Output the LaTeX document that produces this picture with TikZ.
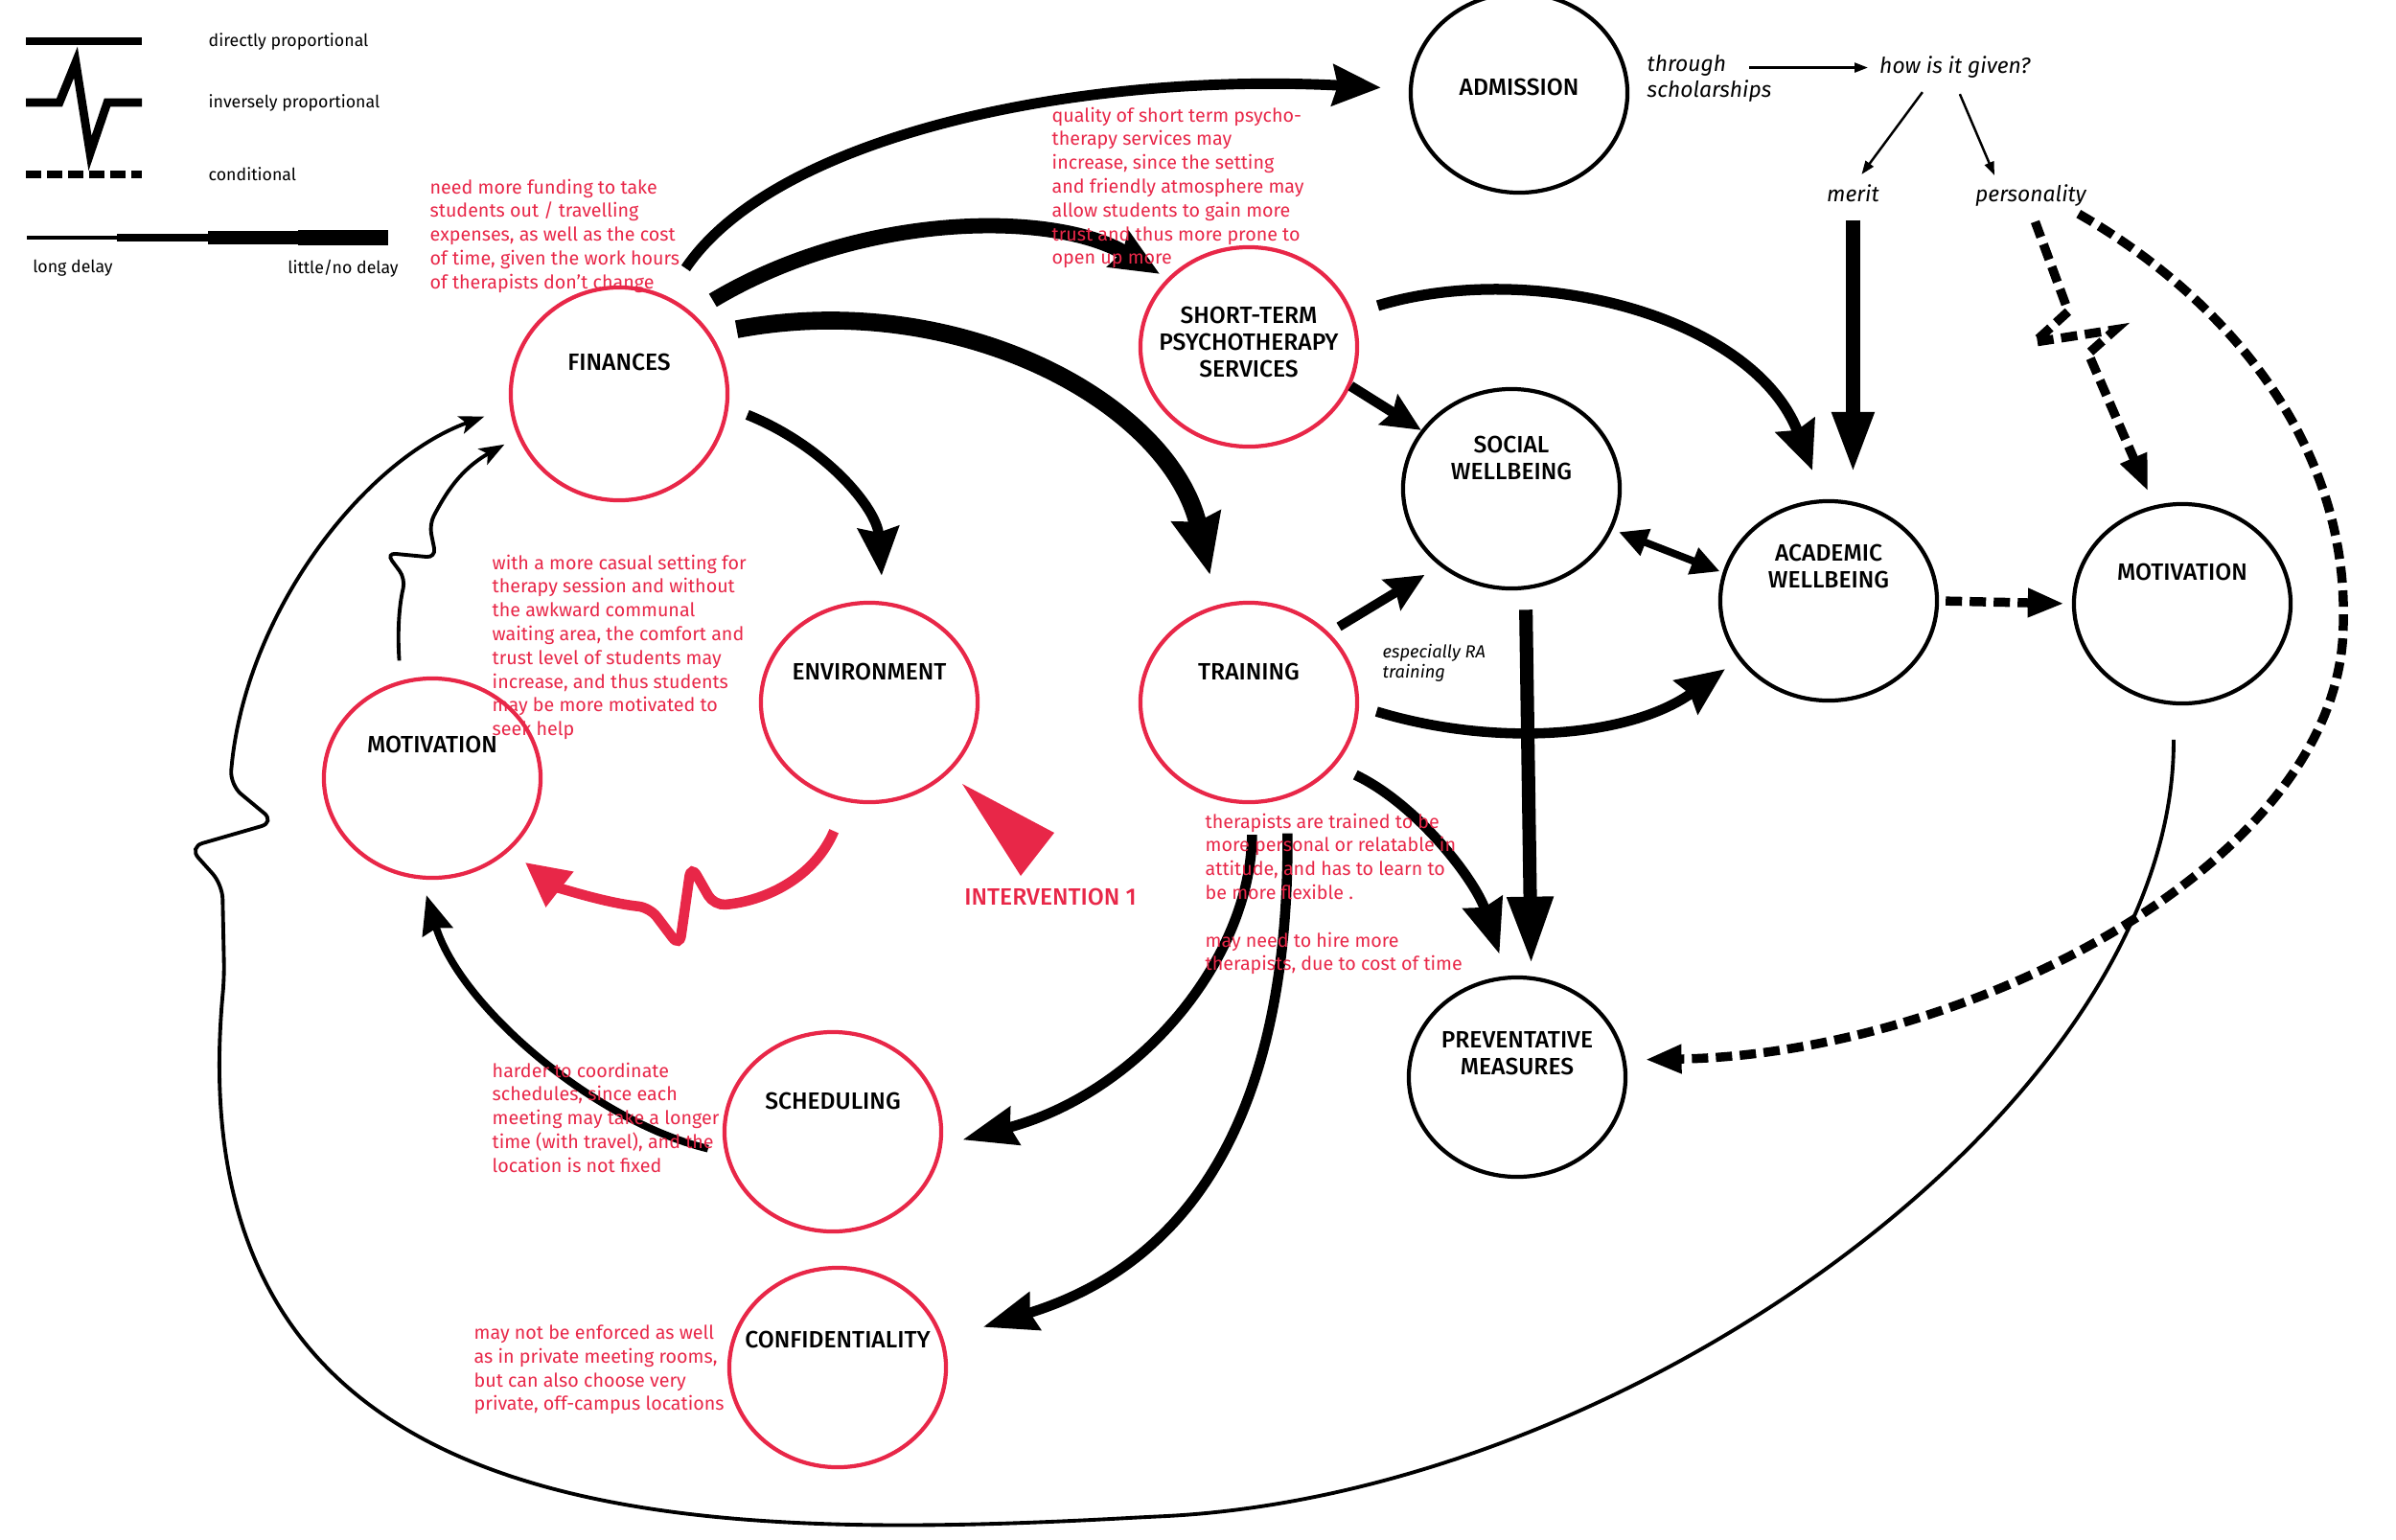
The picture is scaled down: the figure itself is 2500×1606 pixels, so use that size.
\documentclass[tikz,border=0pt]{standalone}
\usepackage{fontspec}
\setmainfont{Fira Sans}
\setsansfont{Fira Sans}
\newfontfamily\capfont{Fira Sans Medium}
\usetikzlibrary{shapes.geometric, arrows.meta, calc}
\definecolor{notered}{RGB}{232,39,72}

\begin{document}
\begin{tikzpicture}[
  x=0.01cm, y=-0.01cm, font=\sffamily,
  bub/.style  ={ellipse, draw=#1, line width=1.2pt, minimum width=2.26cm, minimum height=2.08cm, inner sep=0pt},
  lbl/.style  ={font=\capfont\fontsize{7}{8}\selectfont, align=center, inner sep=0pt},
  note/.style ={text=notered, font=\fontsize{5.6}{7.05}\selectfont, align=left, anchor=north west, inner sep=0pt},
  side/.style ={font=\itshape\fontsize{6.5}{7.6}\selectfont, align=left, inner sep=1pt},
  keytext/.style={font=\fontsize{5.05}{6}\selectfont, inner sep=0pt},
  flow/.style ={line width=#1, -{Stealth[length=5mm, width=4.2mm, inset=0.5mm]}},
  flow/.default=3pt,
  cond/.style ={line width=2.7pt, dash pattern=on 1.7mm off 0.8mm, -{Triangle[length=3.8mm, width=2.8mm]}},
  fine/.style ={line width=1.1pt, -{Stealth[length=2.6mm, width=1.9mm, inset=0.6mm]}},
  small/.style={line width=0.7pt, -{Triangle[length=1.4mm, width=1mm]}},
]
\useasboundingbox (0,0) rectangle (2500,1606);

% ---------- key ----------
\draw[line width=2.5pt] (27,43) -- (148,43);
\draw[line width=2.5pt] (27,107) -- (62,107) -- (79,65) -- (94,160) -- (112,107) -- (148,107);
\draw[line width=2.5pt, dash pattern=on 1.6mm off 0.6mm] (27,182) -- (148,182);
\draw[line width=1pt]   (28,248) -- (122,248);
\draw[line width=2.3pt] (122,248) -- (217,248);
\draw[line width=3.7pt] (217,248) -- (311,248);
\draw[line width=4.8pt] (311,248) -- (405,248);
\node[keytext, anchor=west] (kdir)  at (217,43)  {directly proportional};
\node[keytext, anchor=west] (kinv)  at (217,107) {inversely proportional};
\node[keytext, anchor=west] (kcond) at (217,182) {conditional};
\node[keytext] (klong)  at (76,280)  {long delay};
\node[keytext] (kshort) at (358,280) {little/no delay};

% ---------- red circles ----------
\node[bub=notered, minimum height=2.22cm, label={[lbl, yshift=3.3mm]center:FINANCES}] (fin) at (646,411) {};
\node[bub=notered, label={[lbl, yshift=3.2mm]center:ENVIRONMENT}]     (env)   at (907,733)  {};
\node[bub=notered, label={[lbl, yshift=3.5mm]center:MOTIVATION}]      (mot)   at (451,812)  {};
\node[bub=notered, label={[lbl, yshift=3.2mm]center:TRAINING}]        (train) at (1303,733) {};
\node[bub=notered, label={[lbl, yshift=0.5mm]center:SHORT-TERM\\PSYCHOTHERAPY\\SERVICES}] (stp) at (1303,362) {};
\node[bub=notered, label={[lbl, yshift=3.2mm]center:SCHEDULING}]      (sched) at (869,1181) {};
\node[bub=notered, label={[lbl, yshift=2.9mm]center:CONFIDENTIALITY}] (conf)  at (874,1427) {};

% ---------- black circles ----------
\node[bub=black, label={[lbl, yshift=0.6mm]center:ADMISSION}]              (adm)  at (1585,97)   {};
\node[bub=black, label={[lbl, yshift=3.2mm]center:SOCIAL\\WELLBEING}]      (soc)  at (1577,510)  {};
\node[bub=black, label={[lbl, yshift=3.6mm]center:ACADEMIC\\WELLBEING}]    (acad) at (1908,627)  {};
\node[bub=black, label={[lbl, yshift=3.3mm]center:MOTIVATION}]             (motr) at (2277,630)  {};
\node[bub=black, label={[lbl, yshift=2.5mm]center:PREVENTATIVE\\MEASURES}] (prev) at (1583,1124) {};

% ---------- scholarships ----------
\node[side, anchor=north west, inner sep=0pt] (thr) at (1718,57) {through\\scholarships};
\node[side, anchor=base west] (how)   at (1957,77)  {how is it given?};
\node[side, anchor=base west] (merit) at (1902,210) {merit};
\node[side, anchor=base west] (pers)  at (2057,210) {personality};
\draw[small, shorten >=0.8mm] ($(thr.east |- how.west)+(-24,0)$) -- (how.west);
\draw[small] ($(how.south)+(-34,10)$) -- ($(merit.north)+(9,-6)$);
\draw[small] ($(how.south)+(5,12)$) -- ($(pers.north west)+(24,-5)$);

% ---------- flows out of finances ----------
\draw[flow=3.1pt, shorten <=3.5mm, shorten >=2.9mm] (fin.64) .. controls (810,140) and (1130,75) .. (adm.178);
\draw[flow=4.5pt, shorten <=2.5mm, shorten >=0.9mm] (fin.48) .. controls (900,220) and (1100,220) .. (stp.140);
\draw[flow=5.3pt, shorten <=2.7mm, shorten >=3.2mm, -{Stealth[length=6.2mm, width=5mm, inset=0.5mm]}] (fin.33) .. controls (1000,300) and (1220,420) .. (train.108);
\draw[flow, shorten <=2.1mm, shorten >=2.7mm] (fin.-7) .. controls (860,465) and (915,530) .. (env.82);

% ---------- environment -> motivation (inverse) ----------
\draw[notered, line width=3pt, rounded corners=1.2mm, -{Triangle[length=4.6mm, width=4.4mm]}, shorten <=3.3mm, shorten >=2mm]
  (env.257) .. controls (850,915) and (800,940) .. (745,945) -- (721,903) -- (709,988) -- (678,947)
  .. controls (630,942) and (580,925) .. (mot.-43);

% ---------- right hand side ----------
\draw[flow, -{Stealth[length=4mm, width=3.6mm, inset=0.5mm]}] (stp.-21) -- (soc.147);
\draw[flow=3.2pt, shorten <=2.7mm, shorten >=3.2mm] (stp.18) .. controls (1600,270) and (1830,330) .. (acad.93);
\draw[flow=2.8pt, shorten <=1.2mm, shorten >=1.8mm, -{Stealth[length=4mm, width=3.6mm, inset=0.5mm]}] (train.41) -- (soc.227);
\draw[flow, shorten <=1.9mm, shorten >=1.7mm] (train.-2) .. controls (1560,780) and (1700,770) .. (acad.213);
\draw[line width=2.2pt, {Triangle[length=3mm, width=2.8mm]}-{Triangle[length=3mm, width=2.8mm]}, shorten <=0.7mm, shorten >=0.3mm] (soc.-22) -- (acad.165);
\draw[flow=4pt, shorten <=2.1mm, shorten >=1.3mm, -{Triangle[length=7mm, width=4.5mm]}] (soc.-82) -- (prev.82);
\draw[flow, shorten <=2.3mm, shorten >=2.4mm, -{Stealth[length=5.6mm, width=4.2mm, inset=0.5mm]}] (train.-36) .. controls (1480,840) and (1540,920) .. (prev.96);
\draw[cond, shorten <=0.7mm, shorten >=0.8mm] (acad.east) -- (motr.west);
\draw[flow=4.5pt, shorten <=1.5mm, shorten >=2.6mm, -{Triangle[length=6.5mm, width=4mm]}] (merit.south) -- (merit.south |- acad.north);

% ---------- personality (conditional) ----------
\draw[cond, shorten <=1.3mm, shorten >=1.6mm] (pers.south) -- (2158,325) -- (2123,357) -- (2207,344) -- (2179,369) -- (motr.106);
\draw[cond, shorten <=0.8mm, shorten >=2mm] (pers.-20) .. controls (2320,310) and (2450,460) .. (2445,650)
  .. controls (2445,900) and (2050,1100) .. (prev.9);

% ---------- training -> scheduling / confidentiality ----------
\draw[flow, shorten <=3.2mm, shorten >=2.2mm, -{Stealth[length=5.6mm, width=4mm, inset=0.5mm]}] (train.-88) .. controls (1305,1000) and (1190,1140) .. (sched.-7);
\draw[flow, shorten <=3.7mm, shorten >=4.3mm, -{Stealth[length=5.6mm, width=4mm, inset=0.5mm]}] (train.-68) .. controls (1345,1120) and (1270,1310) .. (conf.15);
\draw[flow=2.2pt, shorten <=1.8mm, shorten >=1.7mm, -{Stealth[length=4mm, width=3.2mm, inset=0.4mm]}] (sched.191) .. controls (620,1170) and (480,1050) .. (mot.264);

% ---------- thin loops back to finances ----------
\draw[fine, rounded corners=1mm, shorten <=2.1mm, shorten >=1.6mm]
  (mot.108) .. controls (414,650) and (418,625) .. (423,604) -- (403,577) -- (455,582) -- (448,547)
  .. controls (465,515) and (480,490) .. (fin.203);
\draw[fine, rounded corners=1.5mm, shorten <=3.6mm, shorten >=2.8mm]
  (motr.265) .. controls (2270,1150) and (1700,1560) .. (1196,1583)
  .. controls (700,1610) and (180,1600) .. (234,1020) -- (232,923) -- (197,884) -- (287,858) -- (240,819)
  .. controls (255,640) and (380,480) .. (fin.187);

% ---------- intervention ----------
\fill[notered] (1004,818) -- (1100,869) -- (1065,914) -- cycle;
\node[lbl, text=notered] (interv) at (1096,936) {INTERVENTION 1};

% ---------- notes ----------
\node[side, anchor=north west, inner sep=0pt, font=\itshape\fontsize{5.2}{5.8}\selectfont] (ra) at (1442,672) {especially RA\\training};
\node[note] (nfin) at (448,186) {need more funding to take\\students out / travelling\\expenses, as well as the cost\\of time, given the work hours\\of therapists don’t change};
\node[note] (nstp) at (1097,111) {quality of short term psycho-\\therapy services may\\increase, since the setting\\and friendly atmosphere may\\allow students to gain more\\trust and thus more prone to\\open up more};
\node[note] (nenv) at (513,578) {with a more casual setting for\\therapy session and without\\the awkward communal\\waiting area, the comfort and\\trust level of students may\\increase, and thus students\\may be more motivated to\\seek help};
\node[note] (ntrain) at (1257,848) {therapists are trained to be\\more personal or relatable in\\attitude, and has to learn to\\be more flexible .\\[7.05pt]may need to hire more\\therapists, due to cost of time};
\node[note] (nsched) at (513,1108) {harder to coordinate\\schedules, since each\\meeting may take a longer\\time (with travel), and the\\location is not fixed};
\node[note] (nconf) at (494,1382) {may not be enforced as well\\as in private meeting rooms,\\but can also choose very\\private, off-campus locations};

\end{tikzpicture}
\end{document}
